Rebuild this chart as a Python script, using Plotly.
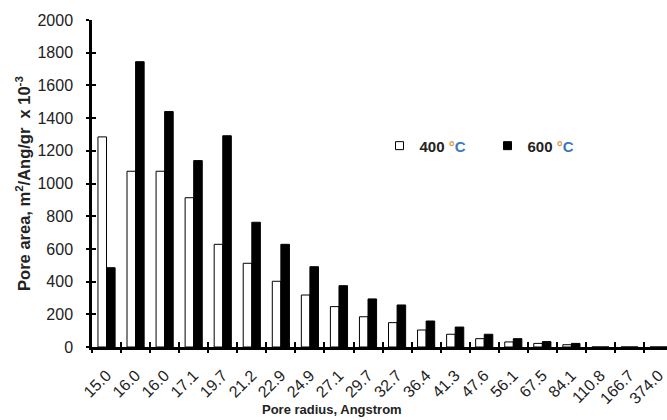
import plotly.graph_objects as go

# Pore size distribution of the two activation temperatures
pore_radius = ["15.0", "16.0", "16.0", "17.1", "19.7", "21.2", "22.9", "24.9", "27.1", "29.7",
               "32.7", "36.4", "41.3", "47.6", "56.1", "67.5", "84.1", "110.8", "166.7", "374.0"]
area_400 = [1285, 1075, 1075, 913, 628, 512, 402, 318, 247, 185,
            149, 104, 78, 51, 31, 22, 14, 0, 0, 0]
area_600 = [485, 1745, 1440, 1140, 1292, 763, 628, 491, 375, 294,
            257, 159, 122, 78, 51, 33, 22, 0, 0, 0]
y_ticks = [0, 200, 400, 600, 800, 1000, 1200, 1400, 1600, 1800, 2000]

name_400 = "400 <span style='color:#d9953a'>°</span><span style='color:#3a78c2'>C</span>"
name_600 = "600 <span style='color:#d9953a'>°</span><span style='color:#3a78c2'>C</span>"

positions = list(range(len(pore_radius)))
boundaries = [p - 0.5 for p in positions] + [positions[-1] + 0.5]
x_range = [-0.5, 19.29]
y_range = [0, 2000]

FONT = "Arial, Liberation Sans, sans-serif"

fig = go.Figure()
fig.add_trace(go.Bar(x=positions, y=area_400, marker=dict(color="white", line=dict(color="black", width=1)),
                     showlegend=False, name="400"))
fig.add_trace(go.Bar(x=positions, y=area_600, marker=dict(color="black", line=dict(color="black", width=1)),
                     showlegend=False, name="600"))

# legend keys (small squares)
fig.add_trace(go.Scatter(x=[None], y=[None], mode="markers", name=name_400, xaxis="x2", yaxis="y2",
                         marker=dict(symbol="square", size=8, color="white", line=dict(color="black", width=1))))
fig.add_trace(go.Scatter(x=[None], y=[None], mode="markers", name=name_600, xaxis="x3", yaxis="y2",
                         marker=dict(symbol="square", size=8, color="black", line=dict(color="black", width=1))))

# x-axis title, placed left of the axis centre
fig.add_annotation(text="Pore radius, Angstrom", xref="paper", yref="paper", x=0.417, y=-0.192,
                   xanchor="center", yanchor="middle", showarrow=False,
                   font=dict(size=13, weight="bold", color="#222222"))

fig.update_layout(
    width=667, height=420,
    margin=dict(l=92, r=0, t=20, b=73),
    paper_bgcolor="white", plot_bgcolor="white",
    barmode="group", bargap=0.41, bargroupgap=0,
    font=dict(family=FONT, color="#222222"),
    showlegend=True,
    legend=dict(orientation="h", x=0.5, xanchor="left", y=0.615, yanchor="middle",
                font=dict(size=15, weight="bold", color="#222222"),
                itemwidth=30, entrywidth=63, entrywidthmode="pixels",
                bgcolor="rgba(0,0,0,0)", tracegroupgap=0),
    xaxis=dict(range=x_range, tickmode="array", tickvals=positions, ticktext=pore_radius,
               ticks="", tickangle=-45, tickfont=dict(size=16), ticklabelstandoff=10,
               showline=True, linecolor="black", linewidth=2.5,
               showgrid=False, zeroline=False),
    xaxis2=dict(overlaying="x", anchor="y", side="bottom", range=x_range,
                tickmode="array", tickvals=boundaries, ticks="outside", ticklen=5, tickwidth=2,
                tickcolor="black", showticklabels=False, showline=False, showgrid=False, zeroline=False),
    xaxis3=dict(overlaying="x", anchor="y", side="bottom", range=x_range,
                tickmode="array", tickvals=boundaries, ticks="inside", ticklen=5, tickwidth=2,
                tickcolor="black", showticklabels=False, showline=False, showgrid=False, zeroline=False),
    yaxis=dict(range=y_range, tickmode="array", tickvals=y_ticks, ticks="outside", ticklen=3, tickwidth=2,
               tickcolor="black", tickfont=dict(size=16), ticklabelstandoff=10,
               showline=True, linecolor="black", linewidth=2.5, showgrid=False, zeroline=False,
               title=dict(text="Pore area, m<sup>2</sup>/Ang/gr  x 10<sup>-3</sup>",
                          font=dict(size=16.5, weight="bold"), standoff=3)),
    yaxis2=dict(overlaying="y", anchor="x", side="left", range=y_range, tickmode="array", tickvals=y_ticks,
                ticks="inside", ticklen=4, tickwidth=2, tickcolor="black", showticklabels=False,
                showline=False, showgrid=False, zeroline=False),
)

fig.write_html("out.html")
